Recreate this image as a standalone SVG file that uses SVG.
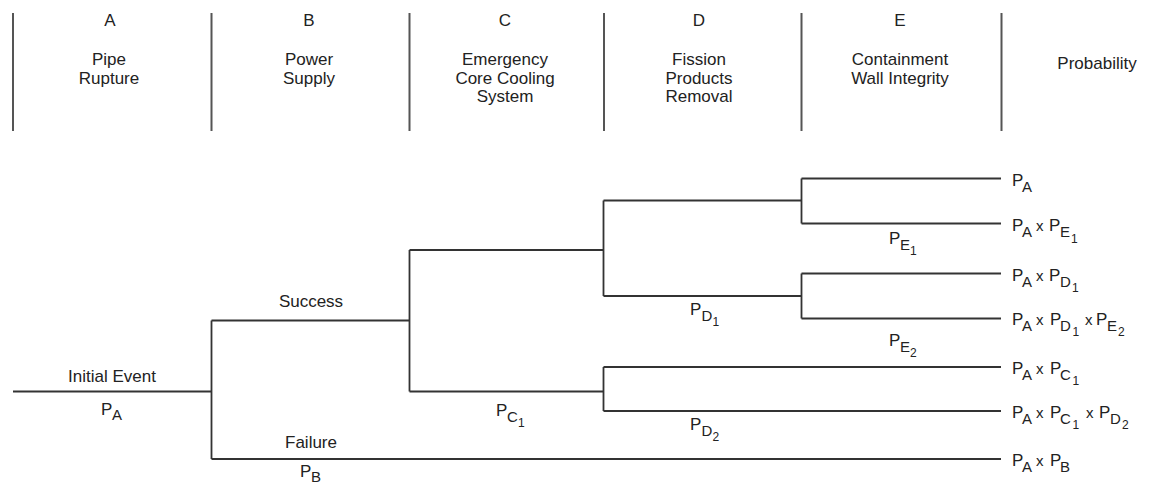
<svg xmlns="http://www.w3.org/2000/svg" width="1171" height="483" viewBox="0 0 1171 483">
<style>
text{font-family:"Liberation Sans",Arial,Helvetica,sans-serif;font-size:17px;fill:#222}
.c{text-anchor:middle}
.s{font-size:15px}
.d{font-size:12px}
.hdr{stroke:#555;stroke-width:2;fill:none}
.ln{stroke:#333;stroke-width:1.8;fill:none}
</style>
<rect width="1171" height="483" fill="#fff"/>
<g id="header-lines">
<path class="hdr" d="M13 13V131M211.5 13V131M409.5 13V131M604 13V131M801.5 13V131M1001.5 13V131"/>
</g>
<g id="col-A"><text class="c" x="110" y="26">A</text><text class="c" x="109" y="65">Pipe</text><text class="c" x="109" y="83.5">Rupture</text></g>
<g id="col-B"><text class="c" x="309" y="26">B</text><text class="c" x="309" y="65">Power</text><text class="c" x="309" y="83.5">Supply</text></g>
<g id="col-C"><text class="c" x="505" y="26">C</text><text class="c" x="505" y="65">Emergency</text><text class="c" x="505" y="83.5">Core Cooling</text><text class="c" x="505" y="102">System</text></g>
<g id="col-D"><text class="c" x="699" y="26">D</text><text class="c" x="699" y="65">Fission</text><text class="c" x="699" y="83.5">Products</text><text class="c" x="699" y="102">Removal</text></g>
<g id="col-E"><text class="c" x="900" y="26">E</text><text class="c" x="900" y="65">Containment</text><text class="c" x="900" y="83.5">Wall Integrity</text></g>
<g id="col-prob"><text class="c" x="1097" y="69">Probability</text></g>

<g id="connectors">
<path class="ln" d="M13 391.5H211.5M211.5 320.5V459M211.5 320.5H409.5M211.5 459H1001"/>
<path class="ln" d="M409.5 250V391.5M409.5 250H603.5M409.5 391.5H603.5"/>
<path class="ln" d="M603.5 200.5V296M603.5 200.5H801.5M603.5 296H801.5"/>
<path class="ln" d="M801.5 178.5V223.5M801.5 178.5H1001M801.5 223.5H1001"/>
<path class="ln" d="M801.5 273.5V318.5M801.5 273.5H1001M801.5 318.5H1001"/>
<path class="ln" d="M603.5 367V411M603.5 367H1001M603.5 411H1001"/>
</g>

<g id="lbl-initial"><text class="c" x="112" y="382">Initial Event</text><text x="101" y="415">P<tspan class="s" x="112" y="420">A</tspan></text></g>
<g id="lbl-success"><text class="c" x="311" y="306.5">Success</text></g>
<g id="lbl-failure"><text class="c" x="311" y="448">Failure</text><text x="300" y="477">P<tspan class="s" x="311" y="482">B</tspan></text></g>
<g id="lbl-pc1"><text x="496" y="416">P<tspan class="s" x="507" y="422">C</tspan><tspan class="d" x="518" y="427">1</tspan></text></g>
<g id="lbl-pd1"><text x="690" y="315">P<tspan class="s" x="701.5" y="321">D</tspan><tspan class="d" x="712.5" y="326">1</tspan></text></g>
<g id="lbl-pd2"><text x="690" y="430">P<tspan class="s" x="701.5" y="436">D</tspan><tspan class="d" x="712.5" y="441">2</tspan></text></g>
<g id="lbl-pe1"><text x="889" y="244">P<tspan class="s" x="900" y="250">E</tspan><tspan class="d" x="910" y="255">1</tspan></text></g>
<g id="lbl-pe2"><text x="889" y="346">P<tspan class="s" x="900" y="352">E</tspan><tspan class="d" x="910" y="357">2</tspan></text></g>

<g id="out-1"><text x="1012" y="185.5">P<tspan class="s" x="1022" y="191.5">A</tspan></text></g>
<g id="out-2"><text x="1012" y="230.5">P<tspan class="s" x="1022" y="236.5">A</tspan><tspan class="s" x="1036" y="230.5">x</tspan><tspan x="1049" y="230.5">P</tspan><tspan class="s" x="1060" y="236.5">E</tspan><tspan class="d" x="1071" y="242.5">1</tspan></text></g>
<g id="out-3"><text x="1012" y="280.5">P<tspan class="s" x="1022" y="286.5">A</tspan><tspan class="s" x="1036" y="280.5">x</tspan><tspan x="1049" y="280.5">P</tspan><tspan class="s" x="1060" y="286.5">D</tspan><tspan class="d" x="1072" y="291.5">1</tspan></text></g>
<g id="out-4"><text x="1012" y="325">P<tspan class="s" x="1022" y="331">A</tspan><tspan class="s" x="1036" y="325">x</tspan><tspan x="1050" y="325">P</tspan><tspan class="s" x="1060" y="331">D</tspan><tspan class="d" x="1072.5" y="336">1</tspan><tspan class="s" x="1085" y="325">x</tspan><tspan x="1096" y="325">P</tspan><tspan class="s" x="1107" y="331">E</tspan><tspan class="d" x="1118" y="336">2</tspan></text></g>
<g id="out-5"><text x="1012" y="374">P<tspan class="s" x="1022" y="380">A</tspan><tspan class="s" x="1036" y="374">x</tspan><tspan x="1050" y="374">P</tspan><tspan class="s" x="1060" y="380">C</tspan><tspan class="d" x="1072.5" y="385">1</tspan></text></g>
<g id="out-6"><text x="1012" y="418">P<tspan class="s" x="1022" y="424">A</tspan><tspan class="s" x="1036" y="418">x</tspan><tspan x="1050" y="418">P</tspan><tspan class="s" x="1060" y="424">C</tspan><tspan class="d" x="1072.5" y="429">1</tspan><tspan class="s" x="1086" y="418">x</tspan><tspan x="1099" y="418">P</tspan><tspan class="s" x="1110" y="424">D</tspan><tspan class="d" x="1122" y="429">2</tspan></text></g>
<g id="out-7"><text x="1012" y="466">P<tspan class="s" x="1022" y="472">A</tspan><tspan class="s" x="1036" y="466">x</tspan><tspan x="1050" y="466">P</tspan><tspan class="s" x="1060" y="472">B</tspan></text></g>
</svg>
